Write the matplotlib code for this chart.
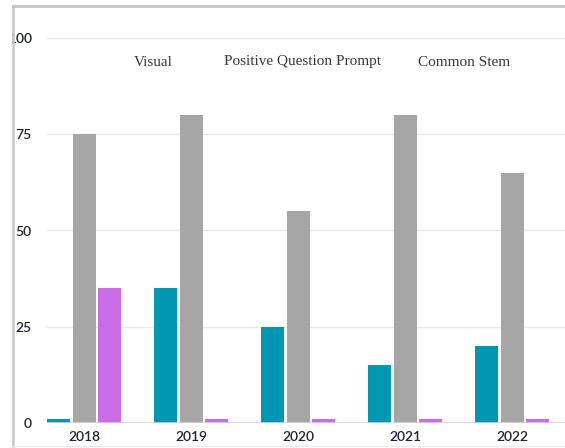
import matplotlib
matplotlib.use("Agg")
import matplotlib.pyplot as plt
import numpy as np
from matplotlib.patches import Rectangle
from matplotlib.lines import Line2D

years = ["2018", "2019", "2020", "2021", "2022"]
series_names = ["Visual", "Positive Question Prompt", "Common Stem"]
visual = [1, 35, 25, 15, 20]
positive_prompt = [75, 80, 55, 80, 65]
common_stem = [35, 1, 1, 1, 1]
colors = ["#0097b2", "#a6a6a6", "#c96ce6"]
y_ticks = [0, 25, 50, 75, 100]

W, H = 565, 448
fig = plt.figure(figsize=(W / 100, H / 100), dpi=100)
ax = fig.add_axes([47 / W, (H - 423) / H, (W - 47) / W, (423 - 38) / H])

x = np.arange(len(years))
bw = 0.215
off = 0.234
for i, (vals, col) in enumerate(zip([visual, positive_prompt, common_stem], colors)):
    ax.bar(x + (i - 1) * off, vals, width=bw, color=col, zorder=3)

ax.set_xlim(-0.346, 4.495)
ax.set_ylim(0, 100)
ax.set_yticks(y_ticks)
ax.set_yticklabels([str(v) for v in y_ticks])
ax.set_xticks(x)
ax.set_xticklabels(years)
ax.grid(axis="y", color="#e8e8e8", linewidth=1, zorder=0)
ax.axhline(0, color="#d4d4d4", linewidth=1.2, zorder=4)
for s in ax.spines.values():
    s.set_visible(False)
ax.tick_params(axis="both", length=0, labelsize=10, colors="#1d2433")
ax.tick_params(axis="y", pad=11)
ax.tick_params(axis="x", pad=6)
for lbl in ax.get_xticklabels() + ax.get_yticklabels():
    lbl.set_family("Lato")
    lbl.set_fontweight("semibold")

# series names written as a marker-less key row
name_x = [134, 224, 418]
for name, px in zip(series_names, name_x):
    fig.text(px / W, (H - 62) / H, name, ha="left", va="center",
             family="Liberation Serif", fontsize=11, color="#383838")

# outer frame
fig.patches.append(Rectangle((0, 0), 12 / W, 1, transform=fig.transFigure,
                             facecolor="white", edgecolor="none", zorder=10))
fig.add_artist(Line2D([13 / W, 13 / W], [0, (H - 6) / H], transform=fig.transFigure,
                      color="#c8c8c8", linewidth=1.8, zorder=11))
fig.add_artist(Line2D([13 / W, 1], [(H - 6) / H, (H - 6) / H], transform=fig.transFigure,
                      color="#c8c8c8", linewidth=2.2, zorder=11))
fig.add_artist(Line2D([13 / W, 1], [2 / H, 2 / H], transform=fig.transFigure,
                      color="#ececec", linewidth=1, zorder=11))

fig.savefig("out.png", dpi=100)
